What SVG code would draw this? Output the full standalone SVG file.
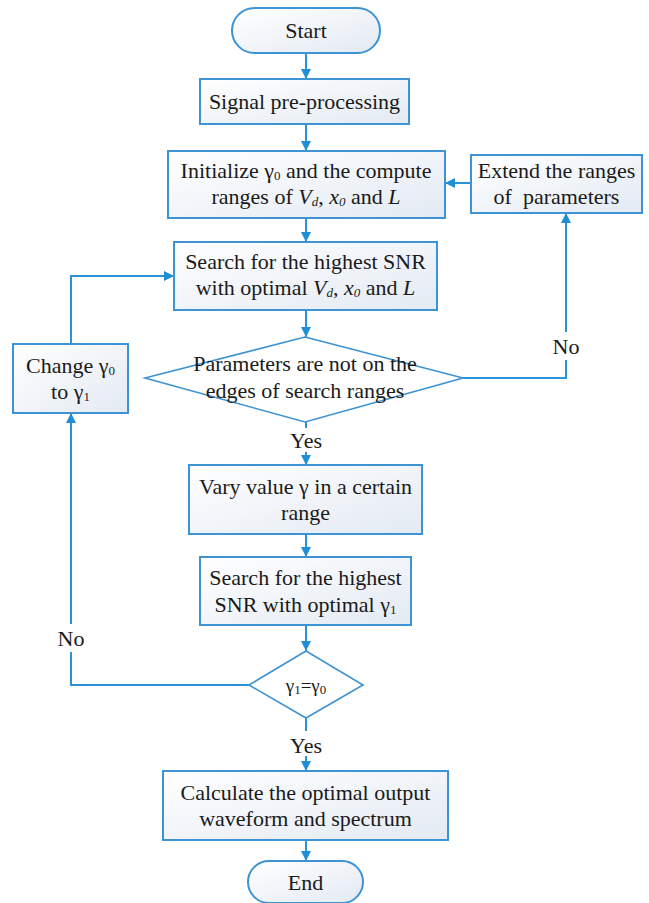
<svg xmlns="http://www.w3.org/2000/svg" width="649" height="903" viewBox="0 0 649 903">
<defs>
<linearGradient id="bg" x1="0" y1="0" x2="1" y2="1">
<stop offset="0" stop-color="#ffffff"/>
<stop offset="1" stop-color="#e3eaf3"/>
</linearGradient>
<marker id="ah" markerWidth="12" markerHeight="12" refX="10" refY="5" orient="auto" markerUnits="userSpaceOnUse">
<path d="M0,0 L10,5 L0,10 Z" fill="#1e8fd6"/>
</marker>
<style>
.box{fill:url(#bg);stroke:#3d93d3;stroke-width:2}
.dia{fill:#ffffff;stroke:#3d93d3;stroke-width:1.6}
.c{fill:none;stroke:#2a93d8;stroke-width:2}
.a{marker-end:url(#ah)}
text{font-family:"Liberation Serif","Times New Roman",serif;font-size:22px;fill:#1a1a1a;text-anchor:middle}
.s{font-size:13px}
.i{font-style:italic}
</style>
</defs>
<rect width="649" height="903" fill="#ffffff"/>
<g id="connectors">
<line class="c a" x1="306" y1="53" x2="306" y2="79"/>
<line class="c a" x1="306" y1="124" x2="306" y2="151"/>
<line class="c a" x1="306" y1="218" x2="306" y2="242"/>
<line class="c a" x1="306" y1="310" x2="306" y2="337"/>
<line class="c" x1="306" y1="422" x2="306" y2="428"/>
<line class="c a" x1="306" y1="452" x2="306" y2="465"/>
<line class="c a" x1="306" y1="534" x2="306" y2="557"/>
<line class="c a" x1="306" y1="625" x2="306" y2="651"/>
<line class="c" x1="306" y1="718" x2="306" y2="731"/>
<line class="c a" x1="306" y1="756" x2="306" y2="771"/>
<line class="c a" x1="306" y1="840" x2="306" y2="861"/>
<polyline class="c" points="249,685 71,685 71,652"/>
<line class="c a" x1="71" y1="624" x2="71" y2="413"/>
<polyline class="c a" points="71,344 71,276 174,276"/>
<polyline class="c" points="463,378 566,378 566,360"/>
<line class="c a" x1="566" y1="332" x2="566" y2="213"/>
<line class="c a" x1="471" y1="183" x2="445" y2="183"/>
</g>
<g id="start">
<rect class="box" x="232" y="8" width="148" height="45" rx="22.5"/>
<text x="306" y="38">Start</text>
</g>
<g id="preprocess">
<rect class="box" x="200" y="79" width="209" height="45"/>
<text x="304.5" y="109">Signal pre-processing</text>
</g>
<g id="init">
<rect class="box" x="168" y="151" width="277" height="67"/>
<text x="306" y="178">Initialize γ<tspan class="s" dy="2">0</tspan><tspan dy="-2"> and the compute</tspan></text>
<text x="306" y="204">ranges of <tspan class="i">V</tspan><tspan class="s i" dy="2">d</tspan><tspan dy="-2">, </tspan><tspan class="i">x</tspan><tspan class="s i" dy="2">0</tspan><tspan dy="-2"> and </tspan><tspan class="i">L</tspan></text>
</g>
<g id="extend">
<rect class="box" x="471" y="155" width="171" height="58"/>
<text x="556.5" y="178">Extend the ranges</text>
<text x="556.5" y="204" xml:space="preserve">of  parameters</text>
</g>
<g id="search1">
<rect class="box" x="174" y="242" width="263" height="68"/>
<text x="305.5" y="269">Search for the highest SNR</text>
<text x="305.5" y="295">with optimal <tspan class="i">V</tspan><tspan class="s i" dy="2">d</tspan><tspan dy="-2">, </tspan><tspan class="i">x</tspan><tspan class="s i" dy="2">0</tspan><tspan dy="-2"> and </tspan><tspan class="i">L</tspan></text>
</g>
<g id="decision1">
<polygon class="dia" points="305,337 463,378 305,422 145,378"/>
<text x="305" y="371">Parameters are not on the</text>
<text x="305" y="398">edges of search ranges</text>
</g>
<g id="change">
<rect class="box" x="13" y="344" width="115" height="69"/>
<text x="70.5" y="373">Change γ<tspan class="s" dy="2">0</tspan></text>
<text x="70.5" y="399">to γ<tspan class="s" dy="2">1</tspan></text>
</g>
<g id="vary">
<rect class="box" x="189" y="465" width="233" height="69"/>
<text x="305.5" y="494">Vary value γ in a certain</text>
<text x="305.5" y="520">range</text>
</g>
<g id="search2">
<rect class="box" x="200" y="557" width="211" height="68"/>
<text x="305.5" y="585">Search for the highest</text>
<text x="305.5" y="612">SNR with optimal γ<tspan class="s" dy="2">1</tspan></text>
</g>
<g id="decision2">
<polygon class="dia" points="306,651 363,685 306,718 249,685"/>
<text x="306" y="692" style="font-size:19px">γ<tspan class="s" dy="2">1</tspan><tspan dy="-2">=γ</tspan><tspan class="s" dy="2">0</tspan></text>
</g>
<g id="calc">
<rect class="box" x="163" y="771" width="285" height="69"/>
<text x="305.5" y="800">Calculate the optimal output</text>
<text x="305.5" y="826">waveform and spectrum</text>
</g>
<g id="end">
<rect class="box" x="248" y="861" width="115" height="42" rx="21"/>
<text x="305.5" y="890">End</text>
</g>
<g id="labels">
<text x="306" y="448">Yes</text>
<text x="306" y="753">Yes</text>
<text x="71" y="646">No</text>
<text x="566" y="354">No</text>
</g>
</svg>
